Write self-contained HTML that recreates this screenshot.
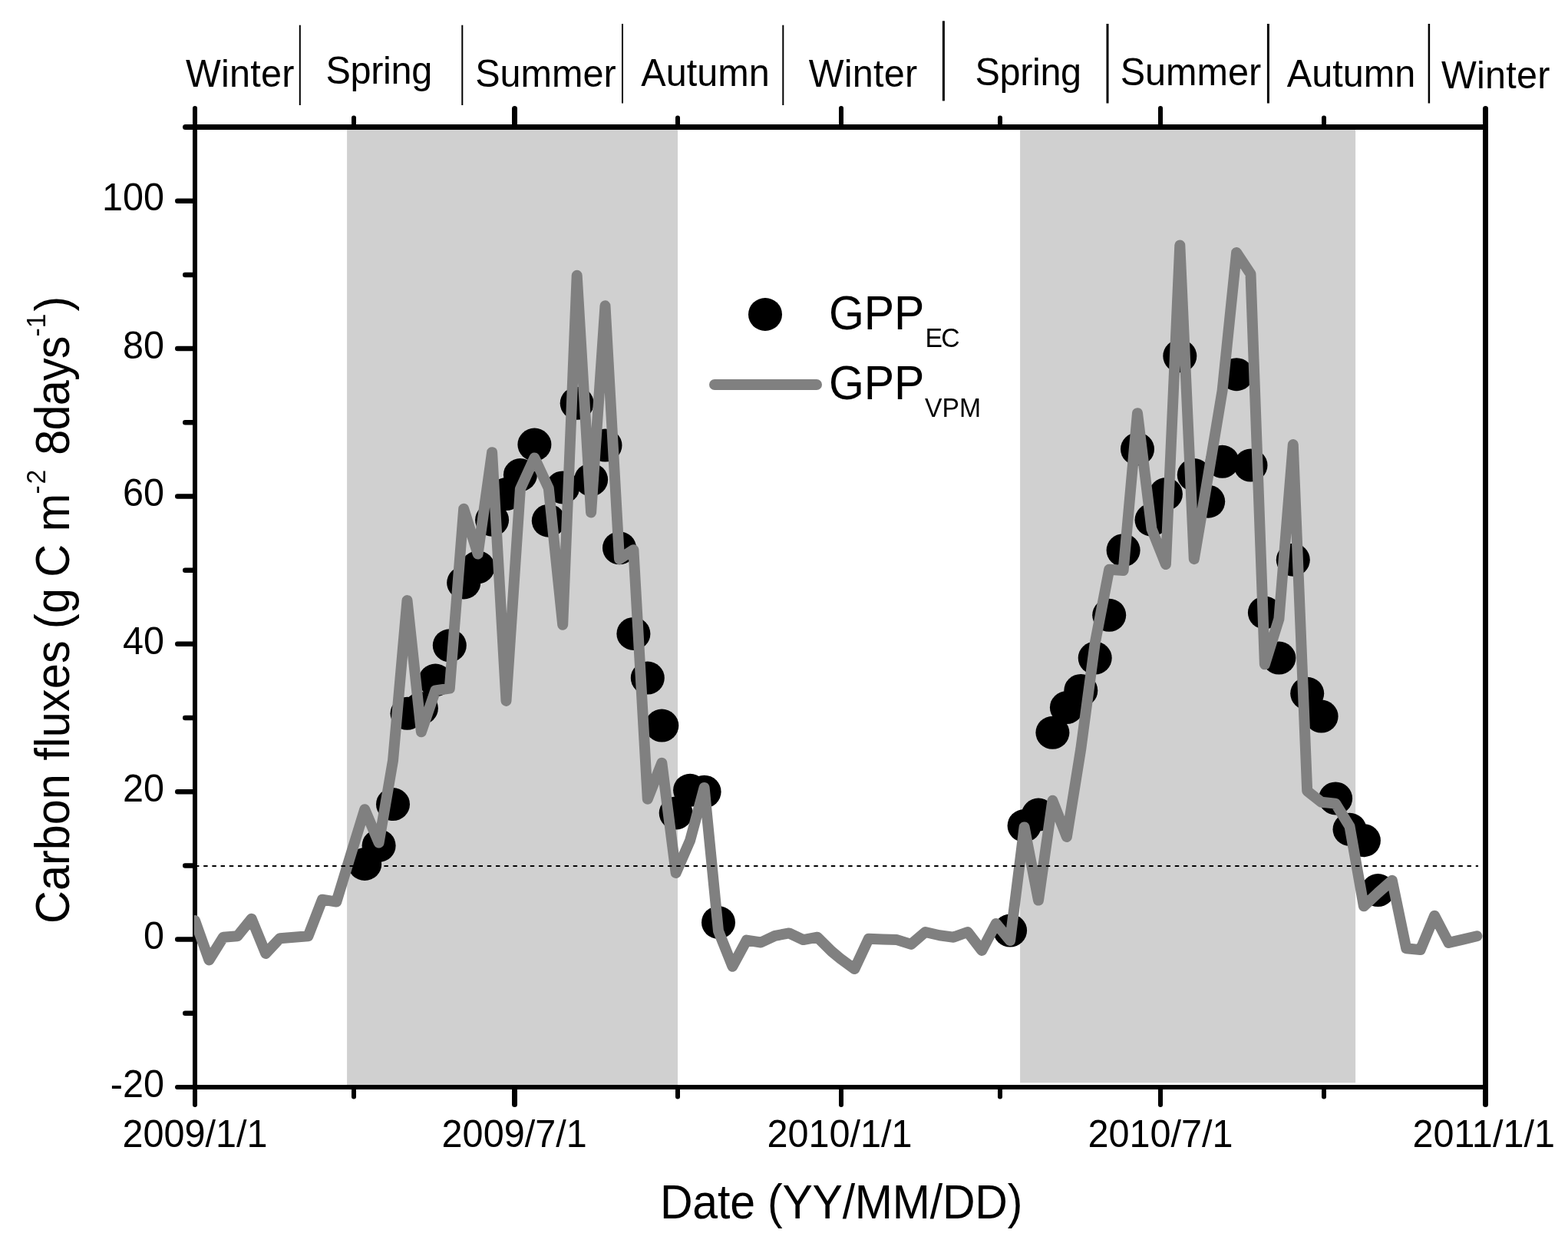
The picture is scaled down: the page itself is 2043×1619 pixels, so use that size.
<!DOCTYPE html>
<html lang="en"><head><meta charset="utf-8"><title>Carbon fluxes</title>
<style>html,body{margin:0;padding:0;background:#fff}body{width:2043px;height:1619px;overflow:hidden}svg{display:block}text{font-family:"Liberation Sans",Arial,Helvetica,sans-serif;fill:#000}</style>
</head><body>
<svg width="2043" height="1619" viewBox="0 0 2043 1619">
<rect x="0" y="0" width="2043" height="1619" fill="#fff"/>
<rect x="452.1" y="166" width="430.9" height="1248.0" fill="#d0d0d0"/>
<rect x="1329.1" y="166" width="437.0" height="1244.3" fill="#d0d0d0"/>
<g fill="#000">
<ellipse cx="475.2" cy="1125.5" rx="22" ry="21.5"/>
<ellipse cx="493.6" cy="1101.5" rx="22" ry="21.5"/>
<ellipse cx="512.0" cy="1047.6" rx="22" ry="21.5"/>
<ellipse cx="530.5" cy="929.3" rx="22" ry="21.5"/>
<ellipse cx="548.9" cy="922.5" rx="22" ry="21.5"/>
<ellipse cx="567.3" cy="886.0" rx="22" ry="21.5"/>
<ellipse cx="585.8" cy="840.8" rx="22" ry="21.5"/>
<ellipse cx="604.2" cy="759.0" rx="22" ry="21.5"/>
<ellipse cx="622.6" cy="738.8" rx="22" ry="21.5"/>
<ellipse cx="641.1" cy="677.2" rx="22" ry="21.5"/>
<ellipse cx="659.5" cy="643.6" rx="22" ry="21.5"/>
<ellipse cx="677.9" cy="618.6" rx="22" ry="21.5"/>
<ellipse cx="696.4" cy="579.1" rx="22" ry="21.5"/>
<ellipse cx="714.8" cy="678.2" rx="22" ry="21.5"/>
<ellipse cx="733.2" cy="634.9" rx="22" ry="21.5"/>
<ellipse cx="751.7" cy="525.3" rx="22" ry="21.5"/>
<ellipse cx="770.1" cy="624.8" rx="22" ry="21.5"/>
<ellipse cx="788.5" cy="580.1" rx="22" ry="21.5"/>
<ellipse cx="807.0" cy="713.8" rx="22" ry="21.5"/>
<ellipse cx="825.4" cy="825.4" rx="22" ry="21.5"/>
<ellipse cx="843.8" cy="883.1" rx="22" ry="21.5"/>
<ellipse cx="862.3" cy="945.1" rx="22" ry="21.5"/>
<ellipse cx="880.7" cy="1059.1" rx="22" ry="21.5"/>
<ellipse cx="899.1" cy="1029.3" rx="22" ry="21.5"/>
<ellipse cx="917.6" cy="1031.2" rx="22" ry="21.5"/>
<ellipse cx="936.0" cy="1201.5" rx="22" ry="21.5"/>
<ellipse cx="1316.1" cy="1212.1" rx="22" ry="21.5"/>
<ellipse cx="1334.6" cy="1075.5" rx="22" ry="21.5"/>
<ellipse cx="1353.0" cy="1061.1" rx="22" ry="21.5"/>
<ellipse cx="1371.4" cy="954.3" rx="22" ry="21.5"/>
<ellipse cx="1389.9" cy="921.6" rx="22" ry="21.5"/>
<ellipse cx="1408.3" cy="899.4" rx="22" ry="21.5"/>
<ellipse cx="1426.7" cy="857.1" rx="22" ry="21.5"/>
<ellipse cx="1445.2" cy="801.3" rx="22" ry="21.5"/>
<ellipse cx="1463.6" cy="716.7" rx="22" ry="21.5"/>
<ellipse cx="1482.0" cy="584.9" rx="22" ry="21.5"/>
<ellipse cx="1500.5" cy="677.2" rx="22" ry="21.5"/>
<ellipse cx="1518.9" cy="643.6" rx="22" ry="21.5"/>
<ellipse cx="1537.3" cy="463.7" rx="22" ry="21.5"/>
<ellipse cx="1555.8" cy="618.6" rx="22" ry="21.5"/>
<ellipse cx="1574.2" cy="653.2" rx="22" ry="21.5"/>
<ellipse cx="1592.6" cy="601.3" rx="22" ry="21.5"/>
<ellipse cx="1611.1" cy="487.7" rx="22" ry="21.5"/>
<ellipse cx="1629.5" cy="606.1" rx="22" ry="21.5"/>
<ellipse cx="1647.9" cy="798.0" rx="22" ry="21.5"/>
<ellipse cx="1666.4" cy="857.1" rx="22" ry="21.5"/>
<ellipse cx="1684.8" cy="729.2" rx="22" ry="21.5"/>
<ellipse cx="1703.2" cy="903.3" rx="22" ry="21.5"/>
<ellipse cx="1721.6" cy="933.1" rx="22" ry="21.5"/>
<ellipse cx="1740.1" cy="1039.9" rx="22" ry="21.5"/>
<ellipse cx="1758.5" cy="1080.3" rx="22" ry="21.5"/>
<ellipse cx="1776.9" cy="1094.7" rx="22" ry="21.5"/>
<ellipse cx="1795.4" cy="1159.6" rx="22" ry="21.5"/>
</g>
<g stroke="#000" stroke-linecap="round" fill="none">
<line x1="254" y1="165.5" x2="254" y2="1416" stroke-width="6"/>
<line x1="1935.5" y1="165.5" x2="1935.5" y2="1416" stroke-width="7"/>
<line x1="254" y1="165.5" x2="1935.5" y2="165.5" stroke-width="7"/>
<line x1="254" y1="1416" x2="1935.5" y2="1416" stroke-width="6"/>
<line x1="254.0" y1="162.5" x2="254.0" y2="141" stroke-width="6"/>
<line x1="254.0" y1="1419" x2="254.0" y2="1439" stroke-width="6"/>
<line x1="461.0" y1="162.5" x2="461.0" y2="153.5" stroke-width="6"/>
<line x1="461.0" y1="1419" x2="461.0" y2="1428.5" stroke-width="6"/>
<line x1="670.5" y1="162.5" x2="670.5" y2="141.5" stroke-width="7"/>
<line x1="670.5" y1="1419" x2="670.5" y2="1438.5" stroke-width="7"/>
<line x1="883.0" y1="162.5" x2="883.0" y2="153.5" stroke-width="6"/>
<line x1="883.0" y1="1419" x2="883.0" y2="1428.5" stroke-width="6"/>
<line x1="1096.0" y1="162.5" x2="1096.0" y2="141" stroke-width="6"/>
<line x1="1096.0" y1="1419" x2="1096.0" y2="1439" stroke-width="6"/>
<line x1="1303.0" y1="162.5" x2="1303.0" y2="153.5" stroke-width="6"/>
<line x1="1303.0" y1="1419" x2="1303.0" y2="1428.5" stroke-width="6"/>
<line x1="1512.0" y1="162.5" x2="1512.0" y2="141" stroke-width="6"/>
<line x1="1512.0" y1="1419" x2="1512.0" y2="1439" stroke-width="6"/>
<line x1="1725.0" y1="162.5" x2="1725.0" y2="153.5" stroke-width="6"/>
<line x1="1725.0" y1="1419" x2="1725.0" y2="1428.5" stroke-width="6"/>
<line x1="1935.5" y1="162.5" x2="1935.5" y2="141.5" stroke-width="7"/>
<line x1="1935.5" y1="1419" x2="1935.5" y2="1438.5" stroke-width="7"/>
<line x1="251" y1="1416.0" x2="231" y2="1416.0" stroke-width="6"/>
<line x1="251" y1="1319.8" x2="241.25" y2="1319.8" stroke-width="6.5"/>
<line x1="251" y1="1223.6" x2="231.25" y2="1223.6" stroke-width="6.5"/>
<line x1="251" y1="1127.4" x2="241.25" y2="1127.4" stroke-width="6.5"/>
<line x1="251" y1="1031.2" x2="231.25" y2="1031.2" stroke-width="6.5"/>
<line x1="251" y1="935.0" x2="241.25" y2="935.0" stroke-width="6.5"/>
<line x1="251" y1="838.8" x2="231.25" y2="838.8" stroke-width="6.5"/>
<line x1="251" y1="742.7" x2="241.25" y2="742.7" stroke-width="6.5"/>
<line x1="251" y1="646.5" x2="231.25" y2="646.5" stroke-width="6.5"/>
<line x1="251" y1="550.3" x2="241.25" y2="550.3" stroke-width="6.5"/>
<line x1="251" y1="454.1" x2="231.25" y2="454.1" stroke-width="6.5"/>
<line x1="251" y1="357.9" x2="241.25" y2="357.9" stroke-width="6.5"/>
<line x1="251" y1="261.7" x2="231.25" y2="261.7" stroke-width="6.5"/>
<line x1="251" y1="165.5" x2="241.5" y2="165.5" stroke-width="7"/>
</g>
<clipPath id="plotclip"><rect x="253" y="100" width="1690" height="1400"/></clipPath>
<polyline clip-path="url(#plotclip)" fill="none" stroke="#808080" stroke-width="14" stroke-linejoin="round" stroke-linecap="round" points="254.0,1199.1 272.4,1250.5 290.9,1220.7 309.3,1219.3 327.7,1196.7 346.2,1241.9 364.6,1222.2 383.0,1220.7 401.5,1219.3 419.9,1171.7 438.3,1174.6 456.8,1114.0 475.2,1054.3 493.6,1097.6 512.0,990.8 530.5,782.1 548.9,953.3 567.3,899.4 585.8,896.6 604.2,662.8 622.6,721.5 641.1,589.2 659.5,912.9 677.9,636.8 696.4,596.4 714.8,635.9 733.2,813.8 751.7,358.8 770.1,667.6 788.5,398.3 807.0,728.2 825.4,716.2 843.8,1040.8 862.3,993.7 880.7,1137.0 899.1,1094.7 917.6,1025.9 936.0,1212.6 954.4,1258.7 972.8,1224.6 991.3,1227.5 1009.7,1218.8 1028.1,1215.4 1046.6,1224.1 1065.0,1220.7 1083.4,1239.0 1095.0,1248.6 1113.4,1262.1 1131.8,1222.7 1150.3,1223.6 1168.7,1224.1 1187.1,1229.9 1205.6,1214.0 1224.0,1218.3 1242.4,1220.7 1260.8,1214.0 1279.3,1238.0 1297.7,1202.9 1316.1,1225.1 1334.6,1077.4 1353.0,1172.6 1371.4,1042.8 1389.9,1089.9 1408.3,975.4 1426.7,837.9 1445.2,741.7 1463.6,743.1 1482.0,538.2 1500.5,688.8 1518.9,735.0 1537.3,319.4 1555.8,728.2 1574.2,619.5 1592.6,508.9 1611.1,329.0 1629.5,356.9 1647.9,865.3 1666.4,806.1 1684.8,579.1 1703.2,1030.3 1721.6,1044.7 1740.1,1046.6 1758.5,1076.4 1776.9,1180.3 1795.4,1163.0 1813.8,1146.7 1832.2,1235.2 1850.7,1237.1 1869.1,1192.8 1887.5,1227.9 1906.0,1223.6 1924.4,1219.3"/>
<line x1="254" y1="1128" x2="1926" y2="1128" stroke="#000" stroke-width="2" stroke-dasharray="5.4 5.8"/>
<g stroke="#000" fill="none">
<line x1="390.8" y1="32.7" x2="390.8" y2="137" stroke-width="2"/>
<line x1="602.3" y1="32.7" x2="602.3" y2="137" stroke-width="2"/>
<line x1="811" y1="31" x2="811" y2="134.5" stroke-width="2"/>
<line x1="1020.3" y1="32.7" x2="1020.3" y2="137" stroke-width="2"/>
<line x1="1229.4" y1="27.3" x2="1229.4" y2="131.4" stroke-width="3"/>
<line x1="1443" y1="31" x2="1443" y2="134.5" stroke-width="3"/>
<line x1="1652.4" y1="31" x2="1652.4" y2="134.5" stroke-width="3"/>
<line x1="1861.9" y1="31" x2="1861.9" y2="134.5" stroke-width="2.5"/>
</g>
<text transform="translate(241.95 113.00) scale(1 1.035)" font-size="48.6" letter-spacing="0.2">Winter</text>
<text transform="translate(424.55 108.70) scale(1 1.035)" font-size="48.6" letter-spacing="-0.35">Spring</text>
<text transform="translate(619.15 113.00) scale(1 1.035)" font-size="48.6">Summer</text>
<text transform="translate(835.25 111.80) scale(1 1.035)" font-size="48.6">Autumn</text>
<text transform="translate(1053.75 113.00) scale(1 1.035)" font-size="48.6" letter-spacing="0.2">Winter</text>
<text transform="translate(1270.45 110.60) scale(1 1.035)" font-size="48.6" letter-spacing="-0.35">Spring</text>
<text transform="translate(1459.65 111.00) scale(1 1.035)" font-size="48.6">Summer</text>
<text transform="translate(1676.75 113.20) scale(1 1.035)" font-size="48.6">Autumn</text>
<text transform="translate(1877.95 115.40) scale(1 1.035)" font-size="48.6" letter-spacing="0.2">Winter</text>
<text transform="translate(214.10 1428.70) scale(1 1.015)" font-size="48.6" text-anchor="end">-20</text>
<text transform="translate(214.10 1236.32) scale(1 1.015)" font-size="48.6" text-anchor="end">0</text>
<text transform="translate(214.10 1043.93) scale(1 1.015)" font-size="48.6" text-anchor="end">20</text>
<text transform="translate(214.10 851.55) scale(1 1.015)" font-size="48.6" text-anchor="end">40</text>
<text transform="translate(214.10 659.16) scale(1 1.015)" font-size="48.6" text-anchor="end">60</text>
<text transform="translate(214.10 466.78) scale(1 1.015)" font-size="48.6" text-anchor="end">80</text>
<text transform="translate(214.10 274.39) scale(1 1.015)" font-size="48.6" text-anchor="end">100</text>
<text transform="translate(159.40 1493.80) scale(1 1.015)" font-size="48.6">2009/1/1</text>
<text transform="translate(575.60 1493.80) scale(1 1.015)" font-size="48.6">2009/7/1</text>
<text transform="translate(999.50 1493.80) scale(1 1.015)" font-size="48.6">2010/1/1</text>
<text transform="translate(1417.40 1493.80) scale(1 1.015)" font-size="48.6">2010/7/1</text>
<text transform="translate(1840.40 1493.80) scale(1 1.015)" font-size="48.6">2011/1/1</text>
<text transform="translate(859.95 1586.80) scale(1 1.06)" font-size="59" letter-spacing="-0.2">Date (YY/MM/DD)</text>
<text transform="translate(90.2 1202.9) rotate(-90) scale(1 1.06)" font-size="59.4"><tspan x="0.00" y="-0.00">Carbon </tspan><tspan x="212.45" y="-0.00" letter-spacing="0.2">fluxes </tspan><tspan x="383.60" y="-0.00">(</tspan><tspan x="403.80" y="-0.00">g </tspan><tspan x="451.10" y="-0.00">C </tspan><tspan x="510.65" y="-0.00">m</tspan><tspan x="559.30" y="-29.43" font-size="33.7" letter-spacing="2">-2 </tspan><tspan x="610.20" y="-0.00" letter-spacing="-0.8">8days</tspan><tspan x="764.30" y="-29.43" font-size="33.7" letter-spacing="0.2">-1</tspan><tspan x="797.35" y="-0.00">)</tspan></text>
<ellipse cx="997" cy="409.5" rx="22" ry="21.5" fill="#000"/>
<line x1="931" y1="501" x2="1064" y2="501" stroke="#808080" stroke-width="14" stroke-linecap="round"/>
<text transform="translate(1079.9 429) scale(1 1.06)" font-size="59">GPP<tspan x="125.50" y="21.32" font-size="33.7" letter-spacing="-1.5">EC</tspan></text>
<text transform="translate(1079.9 520) scale(1 1.06)" font-size="59">GPP<tspan x="125.05" y="21.60" font-size="33.7">VPM</tspan></text>
</svg>
</body></html>
